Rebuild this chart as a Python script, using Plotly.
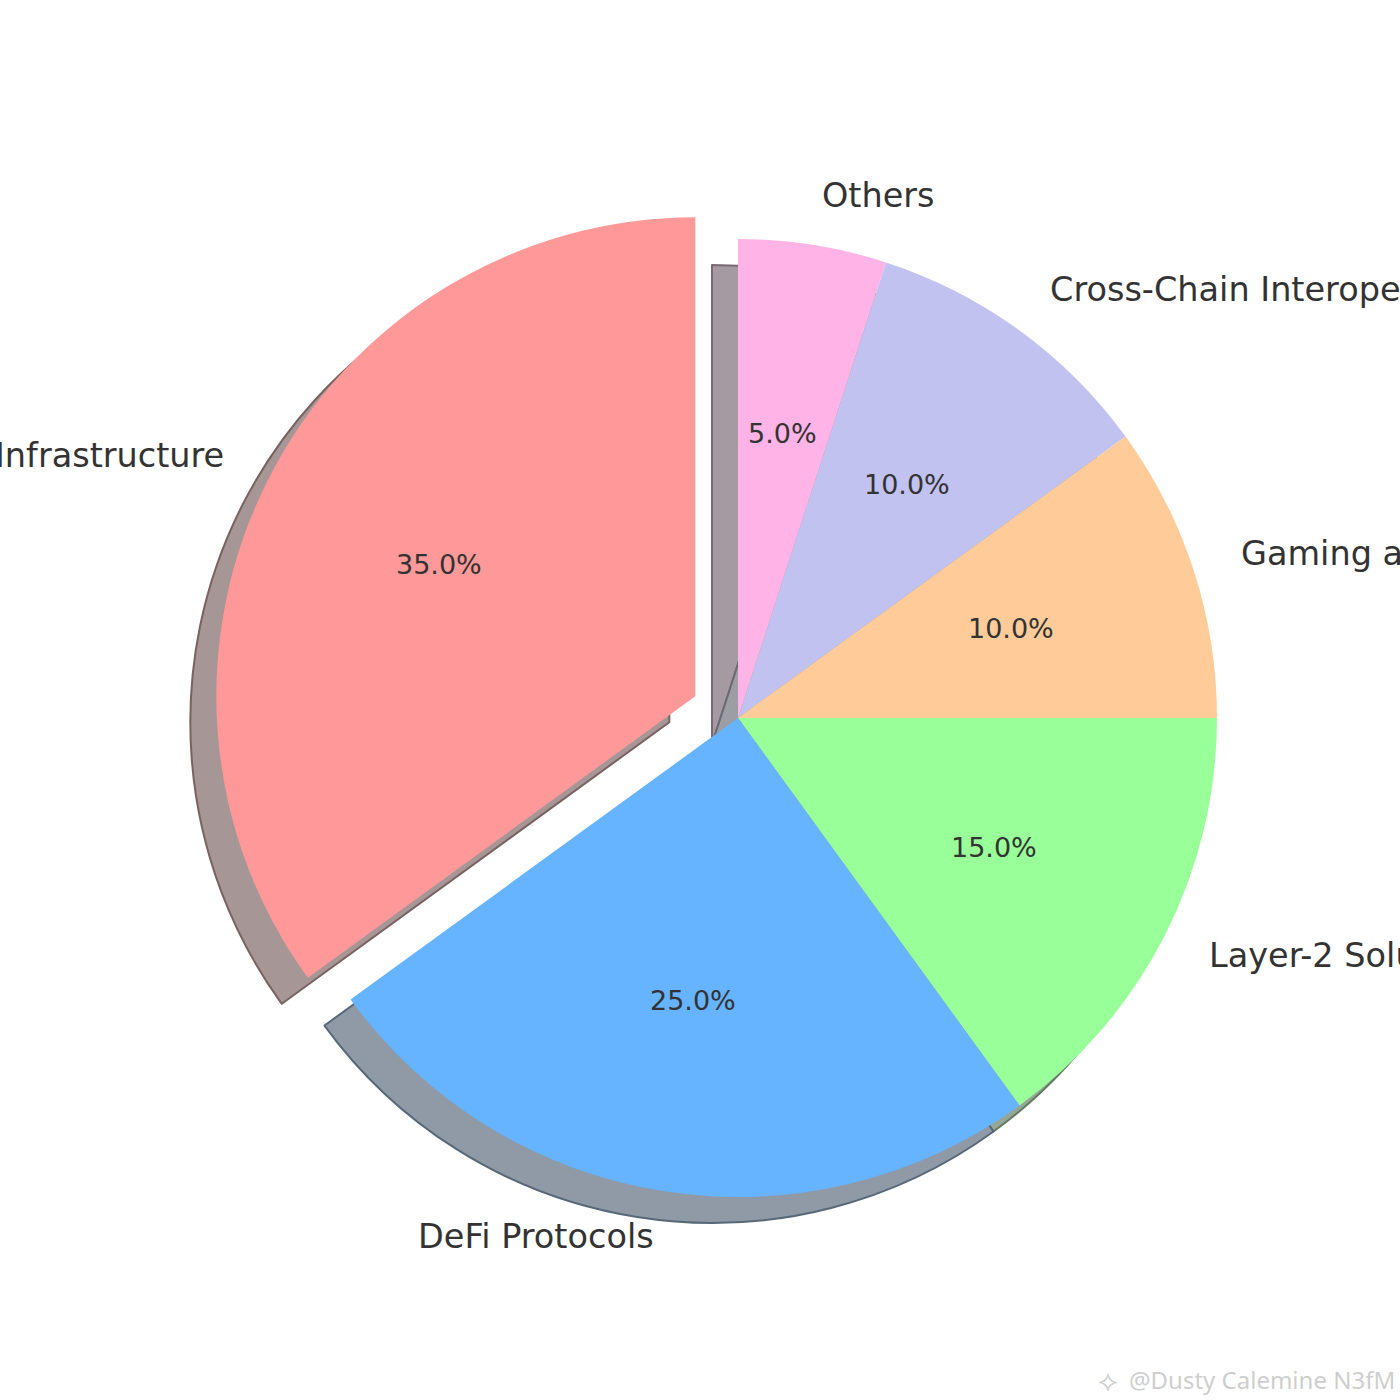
import numpy as np
import plotly.graph_objects as go

# ---- data ----
categories = ["Blockchain Infrastructure", "DeFi Protocols", "Layer-2 Solutions",
              "Gaming and NFTs", "Cross-Chain Interoperability", "Others"]
shares = [35, 25, 15, 10, 10, 5]
explode = [0.1, 0, 0, 0, 0, 0]

# ---- style ----
colors = ["#ff9999", "#66b3ff", "#99ff99", "#ffcc99", "#c2c2f0", "#ffb3e6"]
W = H = 1400
R = 479.0          # pie radius in px
CX, CY = 738.0, 718.0
SHADOW_DX, SHADOW_DY = -26.0, 26.0
TEXT_COLOR = "#333333"
FONT = "DejaVu Sans"


def hex_rgb(h):
    h = h.lstrip("#")
    return np.array([int(h[i:i + 2], 16) for i in (0, 2, 4)], dtype=float)


def shadow_fill(h):
    c = 127.5 + 0.15 * hex_rgb(h)
    return "rgb(%d,%d,%d)" % tuple(np.round(c))


def shadow_edge(h):
    c = 0.25 * 255 + 0.225 * hex_rgb(h)
    return "rgb(%d,%d,%d)" % tuple(np.round(c))


max_pull = max(explode)
S = 2 * R * (1 + max_pull)


def domain(cx, cy):
    return dict(x=[(cx - S / 2) / W, (cx + S / 2) / W],
                y=[1 - (cy + S / 2) / H, 1 - (cy - S / 2) / H])


# matplotlib goes counter-clockwise from 12 o'clock; plotly clockwise from
# 12 o'clock with the reversed order gives the same layout.
rev = lambda a: list(a)[::-1]

fig = go.Figure()

# shadow pie (drawn first, underneath)
fig.add_trace(go.Pie(
    labels=rev(categories), values=rev(shares), sort=False, direction="clockwise",
    rotation=0, pull=rev(explode), textinfo="none", hoverinfo="skip", showlegend=False,
    marker=dict(colors=rev([shadow_fill(c) for c in colors]),
                line=dict(color=rev([shadow_edge(c) for c in colors]), width=2)),
    domain=domain(CX + SHADOW_DX, CY + SHADOW_DY),
))

# main pie
fig.add_trace(go.Pie(
    labels=rev(categories), values=rev(shares), sort=False, direction="clockwise",
    rotation=0, pull=rev(explode), textinfo="none", showlegend=False,
    marker=dict(colors=rev(colors), line=dict(width=0)),
    domain=domain(CX, CY),
))

# labels and percentages (matplotlib-style placement)
vals = np.array(shares, dtype=float)
total = vals.sum()
start = np.concatenate([[0], np.cumsum(vals)[:-1]]) / total
mids = np.deg2rad(90 + 360 * (start + vals / total / 2))

annotations = []
for name, v, th, p in zip(categories, vals, mids, explode):
    ox = CX + p * R * np.cos(th)
    oy = CY - p * R * np.sin(th)
    # percentage
    px = ox + 0.6 * R * np.cos(th)
    py = oy - 0.6 * R * np.sin(th) - 1
    annotations.append(dict(
        x=px / W, y=1 - py / H, xref="paper", yref="paper", showarrow=False,
        text="%.1f%%" % (100 * v / total), xanchor="center", yanchor="middle",
        font=dict(family=FONT, size=27, color=TEXT_COLOR)))
    # label
    lx = ox + 1.1 * R * np.cos(th)
    ly = oy - 1.1 * R * np.sin(th) - 2
    annotations.append(dict(
        x=lx / W, y=1 - ly / H, xref="paper", yref="paper", showarrow=False,
        text=name, xanchor="left" if np.cos(th) > 0 else "right", yanchor="middle",
        font=dict(family=FONT, size=33.5, color=TEXT_COLOR)))

# watermark
annotations.append(dict(
    x=1127 / W, y=1 - 1379 / H, xref="paper", yref="paper", showarrow=False,
    text="@Dusty Calemine N3fM", xanchor="left", yanchor="middle",
    font=dict(family="Noto Sans", size=24, color="rgba(200,200,200,0.9)")))
annotations.append(dict(
    x=1108 / W, y=1 - 1380 / H, xref="paper", yref="paper", showarrow=False,
    text="⟡", xanchor="center", yanchor="middle",
    font=dict(family="DejaVu Sans", size=30, color="rgba(200,200,200,0.9)")))

fig.update_layout(
    width=W, height=H, margin=dict(l=0, r=0, t=0, b=0),
    paper_bgcolor="white", plot_bgcolor="white",
    annotations=annotations, showlegend=False,
)

fig.write_html("out.html", config={"displayModeBar": False},
               post_script="document.body.style.margin='0';"
                           "document.body.style.overflow='hidden';")
